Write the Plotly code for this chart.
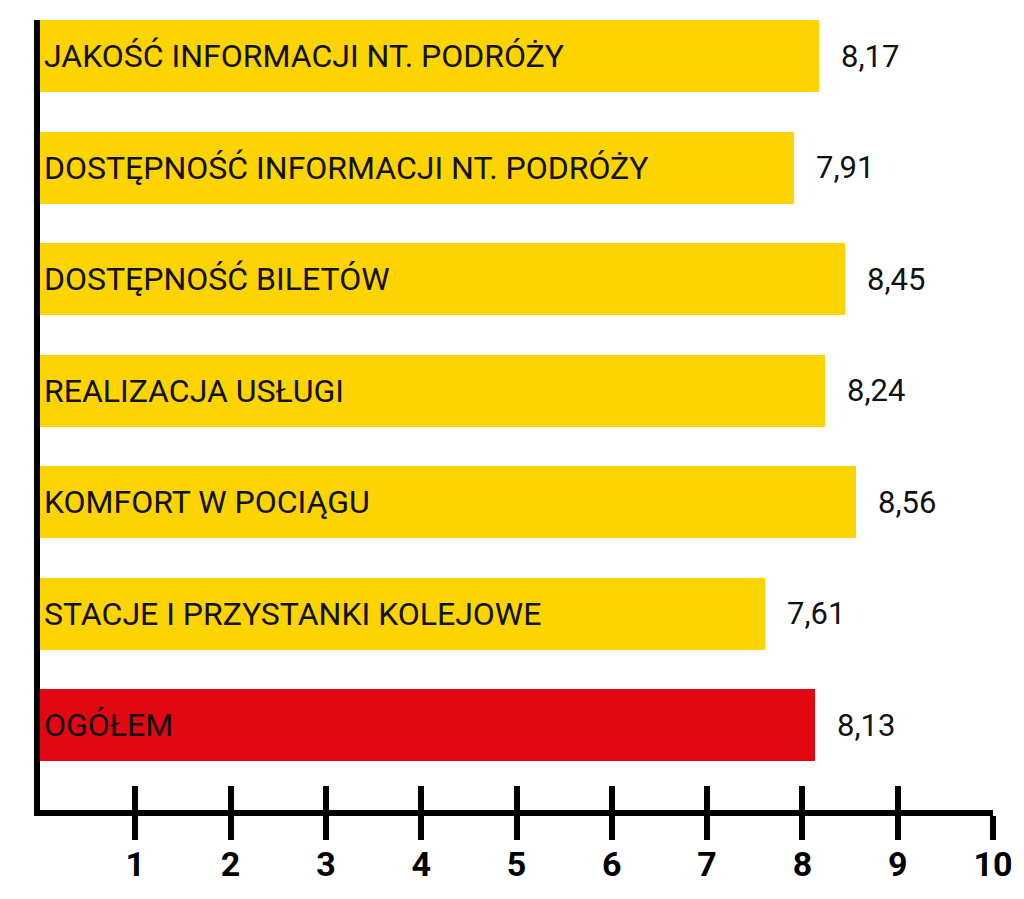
import plotly.graph_objects as go

categories = [
    "JAKOŚĆ INFORMACJI NT. PODRÓŻY",
    "DOSTĘPNOŚĆ INFORMACJI NT. PODRÓŻY",
    "DOSTĘPNOŚĆ BILETÓW",
    "REALIZACJA USŁUGI",
    "KOMFORT W POCIĄGU",
    "STACJE I PRZYSTANKI KOLEJOWE",
    "OGÓŁEM",
]
values = [8.17, 7.91, 8.45, 8.24, 8.56, 7.61, 8.13]
value_labels = ["8,17", "7,91", "8,45", "8,24", "8,56", "7,61", "8,13"]
tick_vals = [1, 2, 3, 4, 5, 6, 7, 8, 9, 10]
tick_text = ["1", "2", "3", "4", "5", "6", "7", "8", "9", "10"]

YELLOW = "#FDD300"
RED = "#E30613"
colors = [YELLOW] * 6 + [RED]
FONT = "Roboto"

fig = go.Figure()
fig.add_trace(go.Bar(
    y=categories, x=values, orientation="h",
    marker=dict(color=colors, line=dict(width=0)),
    width=0.646, hoverinfo="skip", showlegend=False,
))
# invisible trace to activate the overlay axis used for inward tick halves
fig.add_trace(go.Scatter(
    x=[0, 10], y=[categories[0], categories[0]], xaxis="x2", mode="markers",
    marker=dict(opacity=0), hoverinfo="skip", showlegend=False,
))

annotations = []
for cat, v, lab in zip(categories, values, value_labels):
    annotations.append(dict(
        x=0, y=cat, xref="x", yref="y", text=cat, showarrow=False,
        xanchor="left", yanchor="middle", xshift=2,
        font=dict(family=FONT, size=32, color="#111111"),
    ))
    annotations.append(dict(
        x=v, y=cat, xref="x", yref="y", text=lab, showarrow=False,
        xanchor="left", yanchor="middle", xshift=20,
        font=dict(family=FONT, size=31, color="#111111"),
    ))

xaxis_cfg = dict(
    range=[0, 10], tickvals=tick_vals, ticktext=tick_text,
    ticks="outside", ticklen=24, tickwidth=6, tickcolor="black",
    showline=True, linewidth=6, linecolor="black",
    showgrid=False, zeroline=False, fixedrange=True,
    tickfont=dict(family=FONT, size=34, color="black", weight="bold"),
)
try:
    go.layout.XAxis(ticklabelstandoff=-5)
    xaxis_cfg["ticklabelstandoff"] = -5
except Exception:
    pass

fig.update_layout(
    width=1016, height=891,
    margin=dict(l=32, r=31, t=12, b=89, pad=0),
    paper_bgcolor="white", plot_bgcolor="white",
    bargap=0,
    annotations=annotations,
    xaxis=xaxis_cfg,
    xaxis2=dict(
        range=[0, 10], tickvals=tick_vals, overlaying="x", anchor="y", side="bottom",
        ticks="inside", ticklen=24, tickwidth=6, tickcolor="black",
        showticklabels=False, showline=False, showgrid=False, zeroline=False,
    ),
    yaxis=dict(
        categoryorder="array", categoryarray=categories,
        range=[6.762, -0.323],
        showticklabels=False, ticks="",
        showline=True, linewidth=6, linecolor="black",
        showgrid=False, zeroline=False, fixedrange=True,
    ),
)

fig.write_html("out.html")
